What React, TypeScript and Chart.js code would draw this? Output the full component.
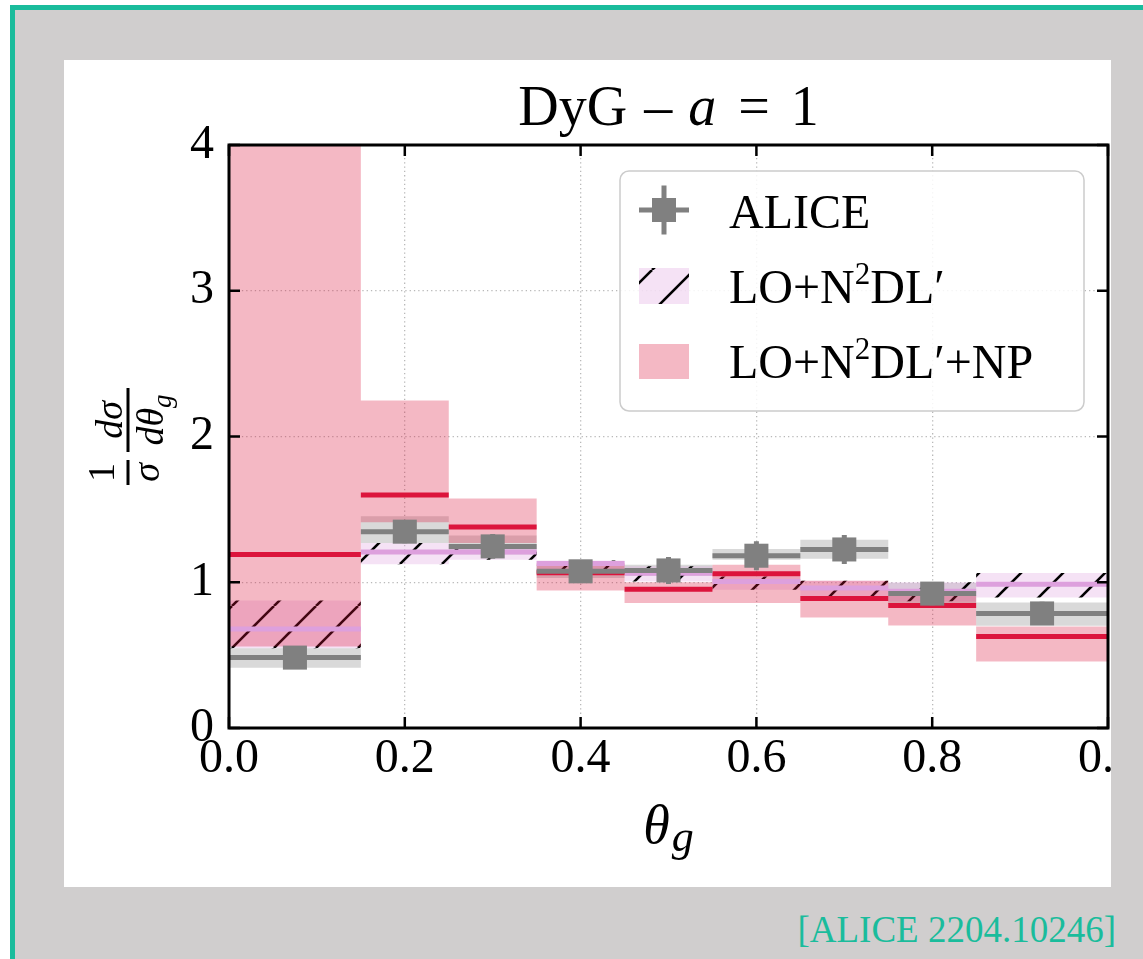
import React, { useEffect, useRef } from 'react';
import { Chart, registerables } from 'chart.js';

Chart.register(...registerables);

// ---------------- data ----------------
const BIN_EDGES = [0, 0.15, 0.25, 0.35, 0.45, 0.55, 0.65, 0.75, 0.85, 1.0];
const BIN_CENTERS = [0.075, 0.2, 0.3, 0.4, 0.5, 0.6, 0.7, 0.8, 0.925];

const ALICE_VALUE = [0.483, 1.347, 1.246, 1.075, 1.081, 1.182, 1.225, 0.922, 0.786];
const ALICE_STAT = [0.07, 0.08, 0.085, 0.075, 0.093, 0.1, 0.1, 0.08, 0.08];
const ALICE_SYS_LOW = [0.414, 1.269, 1.19, 1.03, 1.045, 1.155, 1.161, 0.85, 0.701];
const ALICE_SYS_HIGH = [0.548, 1.452, 1.32, 1.12, 1.12, 1.228, 1.292, 0.995, 0.861];

const N2DL_CENTRAL = [0.68, 1.207, 1.207, 1.128, 1.062, 1.006, 0.96, 0.939, 0.987];
const N2DL_LOW = [0.548, 1.124, 1.155, 1.06, 1.005, 0.948, 0.902, 0.87, 0.896];
const N2DL_HIGH = [0.875, 1.27, 1.25, 1.15, 1.11, 1.04, 1.01, 1.0, 1.063];

const NP_CENTRAL = [1.191, 1.599, 1.379, 1.065, 0.952, 1.058, 0.889, 0.841, 0.628];
const NP_LOW = [0.559, 1.411, 1.27, 0.944, 0.857, 0.857, 0.758, 0.703, 0.456];
const NP_HIGH = [4.5, 2.247, 1.574, 1.13, 1.0, 1.12, 1.01, 0.91, 0.696];

const X_TICKS = [0, 0.2, 0.4, 0.6, 0.8, 1.0];
const X_TICK_LABELS = ['0.0', '0.2', '0.4', '0.6', '0.8', '0.0'];
const Y_TICKS = [0, 1, 2, 3, 4];
const Y_TICK_LABELS = ['0', '1', '2', '3', '4'];

const TITLE_TEXTS = ['DyG', '\u2013', 'a', '=', '1'];
const TITLE_ITALIC = [false, false, true, false, false];
const TITLE_GAPS = [17, 16, 22, 21, 0];

const LEGEND_MAIN = ['ALICE', 'LO+N', 'LO+N'];
const LEGEND_SUP = ['', '2', '2'];
const LEGEND_TAIL = ['', 'DL\u2032', 'DL\u2032+NP'];

const CITATION = '[ALICE 2204.10246]';

// ---------------- styles ----------------
const FONT = '"Liberation Serif", "DejaVu Serif", serif';
const C_NP = '#dc143c';
const C_NP_BAND = 'rgba(220,20,60,0.3)';
const C_LO = '#dda0dd';
const C_LO_BAND = 'rgba(221,160,221,0.3)';
const C_ALICE = '#808080';
const C_ALICE_BAND = 'rgba(128,128,128,0.3)';
const TEAL = '#1abc9c';
const GRAY_BG = '#d0cece';

const CANVAS_W = 1140;
const CANVAS_H = 827;

type Pt = { x: number; y: number | null };

const stepData = (vals: number[]): Pt[] => [
  ...vals.map((v, i) => ({ x: BIN_EDGES[i], y: v })),
  { x: BIN_EDGES[BIN_EDGES.length - 1], y: vals[vals.length - 1] },
];
const segData = (vals: number[]): Pt[] =>
  vals.flatMap((v, i) => [
    { x: BIN_EDGES[i], y: v },
    { x: BIN_EDGES[i + 1], y: v },
    { x: BIN_EDGES[i + 1], y: null },
  ]);
const errData = (vals: number[], errs: number[]): Pt[] =>
  vals.flatMap((v, i) => [
    { x: BIN_CENTERS[i], y: v - errs[i] },
    { x: BIN_CENTERS[i], y: v + errs[i] },
    { x: BIN_CENTERS[i], y: null },
  ]);

function fontStr(size: number, italic?: boolean) {
  return `${italic ? 'italic ' : ''}${size}px ${FONT}`;
}

function makeHatch(ctx: CanvasRenderingContext2D) {
  const s = 42;
  const c = document.createElement('canvas');
  c.width = s;
  c.height = s;
  const g = c.getContext('2d')!;
  g.fillStyle = C_LO_BAND;
  g.fillRect(0, 0, s, s);
  g.strokeStyle = '#000';
  g.lineWidth = 2.6;
  for (const k of [-1, 0, 1]) {
    g.beginPath();
    g.moveTo(k * s, s);
    g.lineTo(k * s + s, 0);
    g.stroke();
  }
  return ctx.createPattern(c, 'repeat')!;
}

function roundRect(ctx: CanvasRenderingContext2D, x: number, y: number, w: number, h: number, r: number) {
  ctx.beginPath();
  ctx.moveTo(x + r, y);
  ctx.arcTo(x + w, y, x + w, y + h, r);
  ctx.arcTo(x + w, y + h, x, y + h, r);
  ctx.arcTo(x, y + h, x, y, r);
  ctx.arcTo(x, y, x + w, y, r);
  ctx.closePath();
}

export default function App() {
  const ref = useRef<HTMLCanvasElement>(null);

  useEffect(() => {
    const canvas = ref.current!;
    const ctx0 = canvas.getContext('2d')!;
    const hatch = makeHatch(ctx0);

    const lineDs = (label: string, data: Pt[], color: string, width: number) => ({
      label,
      data,
      borderColor: color,
      backgroundColor: color,
      borderWidth: width,
      pointRadius: 0,
      fill: false,
      spanGaps: false,
      borderCapStyle: 'butt',
    });
    const bandDs = (label: string, data: Pt[], fillColor: any, fill: any) => ({
      label,
      data,
      borderColor: 'rgba(0,0,0,0)',
      borderWidth: 1,
      pointRadius: 0,
      stepped: true,
      backgroundColor: fillColor,
      fill,
    });

    const datasets: any[] = [
      {
        label: 'ALICE',
        data: BIN_CENTERS.map((x, i) => ({ x, y: ALICE_VALUE[i] })),
        showLine: false,
        pointStyle: 'rect',
        pointRadius: 17,
        pointBackgroundColor: C_ALICE,
        pointBorderWidth: 0,
        borderColor: C_ALICE,
        borderWidth: 0,
        fill: false,
      },
      lineDs('ALICE stat', errData(ALICE_VALUE, ALICE_STAT), C_ALICE, 5),
      lineDs('ALICE bins', segData(ALICE_VALUE), C_ALICE, 5),
      lineDs('NP central', segData(NP_CENTRAL), C_NP, 5),
      lineDs('N2DL central', segData(N2DL_CENTRAL), C_LO, 5),
      bandDs('NP high', stepData(NP_HIGH), C_NP_BAND, '+1'),
      bandDs('NP low', stepData(NP_LOW), 'rgba(0,0,0,0)', false),
      bandDs('N2DL high', stepData(N2DL_HIGH), hatch, '+1'),
      bandDs('N2DL low', stepData(N2DL_LOW), 'rgba(0,0,0,0)', false),
      bandDs('ALICE sys high', stepData(ALICE_SYS_HIGH), C_ALICE_BAND, '+1'),
      bandDs('ALICE sys low', stepData(ALICE_SYS_LOW), 'rgba(0,0,0,0)', false),
    ];

    const decor = {
      id: 'decor',
      afterDatasetsDraw(chart: any) {
        const { ctx, chartArea: a, scales } = chart;
        const xs = scales.x;
        const ys = scales.y;
        ctx.save();
        ctx.strokeStyle = '#000';
        ctx.lineWidth = 2.5;
        const seg = (x1: number, y1: number, x2: number, y2: number) => {
          ctx.beginPath();
          ctx.moveTo(x1, y1);
          ctx.lineTo(x2, y2);
          ctx.stroke();
        };
        X_TICKS.forEach((v) => {
          const px = xs.getPixelForValue(v);
          seg(px, a.bottom, px, a.bottom - 11);
          seg(px, a.top, px, a.top + 11);
        });
        Y_TICKS.forEach((v) => {
          const py = ys.getPixelForValue(v);
          seg(a.left, py, a.left + 11, py);
          seg(a.right, py, a.right - 11, py);
        });
        ctx.lineWidth = 3;
        ctx.strokeRect(a.left, a.top, a.right - a.left, a.bottom - a.top);
        ctx.restore();
      },
      afterDraw(chart: any) {
        const { ctx, chartArea: a } = chart;
        const cx = (a.left + a.right) / 2;
        ctx.save();
        ctx.fillStyle = '#000';
        ctx.textBaseline = 'alphabetic';
        ctx.textAlign = 'left';

        // ---- title ----
        const tSize = 56;
        let tw = 0;
        TITLE_TEXTS.forEach((t, i) => {
          ctx.font = fontStr(tSize, TITLE_ITALIC[i]);
          tw += ctx.measureText(t).width + TITLE_GAPS[i];
        });
        let tx = cx - tw / 2;
        TITLE_TEXTS.forEach((t, i) => {
          ctx.font = fontStr(tSize, TITLE_ITALIC[i]);
          ctx.fillText(t, tx, a.top - 20);
          tx += ctx.measureText(t).width + TITLE_GAPS[i];
        });

        // ---- x label: theta_g ----
        ctx.font = fontStr(54, true);
        const thW = ctx.measureText('\u03b8').width;
        ctx.font = fontStr(44, true);
        const gW = ctx.measureText('g').width;
        const xx = cx - (thW + 2 + gW) / 2;
        ctx.font = fontStr(54, true);
        ctx.fillText('\u03b8', xx, a.bottom + 115);
        ctx.font = fontStr(44, true);
        ctx.fillText('g', xx + thW + 2, a.bottom + 123);

        // ---- y label: (1/sigma) dsigma/dtheta_g ----
        ctx.save();
        ctx.translate(a.left - 101, (a.top + a.bottom) / 2);
        ctx.rotate(-Math.PI / 2);
        ctx.textAlign = 'center';
        ctx.font = fontStr(38, false);
        ctx.fillText('1', -36, -14);
        ctx.font = fontStr(38, true);
        ctx.fillText('\u03c3', -36, 31);
        ctx.fillRect(-48.5, -1.5, 25, 3);
        ctx.fillText('d\u03c3', 16.5, -6);
        ctx.fillRect(-15.5, -1.5, 64, 3);
        ctx.textAlign = 'left';
        ctx.font = fontStr(38, true);
        const dth = ctx.measureText('d\u03b8').width;
        ctx.font = fontStr(27, true);
        const gg = ctx.measureText('g').width;
        const sx = 16.5 - (dth + gg) / 2;
        ctx.font = fontStr(38, true);
        ctx.fillText('d\u03b8', sx, 35);
        ctx.font = fontStr(27, true);
        ctx.fillText('g', sx + dth, 43);
        ctx.restore();

        // ---- legend ----
        const lw = 464;
        const lh = 240;
        const lx = a.right - 24 - lw;
        const ly = a.top + 26;
        roundRect(ctx, lx, ly, lw, lh, 9);
        ctx.fillStyle = 'rgba(255,255,255,0.85)';
        ctx.fill();
        ctx.strokeStyle = 'rgb(204,204,204)';
        ctx.lineWidth = 1.5;
        ctx.stroke();

        const px0 = lx + 19;
        const pw = 50;
        // ALICE marker
        const mcx = px0 + pw / 2;
        const mcy = ly + 39;
        ctx.strokeStyle = C_ALICE;
        ctx.lineWidth = 5;
        ctx.beginPath();
        ctx.moveTo(px0, mcy);
        ctx.lineTo(px0 + pw, mcy);
        ctx.moveTo(mcx, mcy - 24.5);
        ctx.lineTo(mcx, mcy + 24.5);
        ctx.stroke();
        ctx.fillStyle = C_ALICE;
        ctx.fillRect(mcx - 12, mcy - 12, 24, 24);
        // N2DL patch
        ctx.fillStyle = hatch;
        ctx.fillRect(px0, ly + 97, pw, 36);
        // NP patch
        ctx.fillStyle = C_NP_BAND;
        ctx.fillRect(px0, ly + 173, pw, 35);

        const baselines = [ly + 57, ly + 132, ly + 207];
        ctx.fillStyle = '#000';
        ctx.textAlign = 'left';
        LEGEND_MAIN.forEach((m, i) => {
          let x = lx + 109;
          ctx.font = fontStr(48, false);
          ctx.fillText(m, x, baselines[i]);
          x += ctx.measureText(m).width;
          if (LEGEND_SUP[i]) {
            ctx.font = fontStr(31, false);
            ctx.fillText(LEGEND_SUP[i], x, baselines[i] - 19);
            x += ctx.measureText(LEGEND_SUP[i]).width;
          }
          if (LEGEND_TAIL[i]) {
            ctx.font = fontStr(48, false);
            ctx.fillText(LEGEND_TAIL[i], x, baselines[i]);
          }
        });
        ctx.restore();
      },
    };

    const gridCommon = { color: 'rgb(185,185,185)', lineWidth: 1.3, drawTicks: false };
    const tickFont = { family: FONT, size: 48 };

    const chart = new Chart(canvas, {
      type: 'line',
      data: { datasets },
      options: {
        animation: false,
        responsive: false,
        devicePixelRatio: 1,
        events: [],
        layout: { padding: { left: 0, top: 85, right: CANVAS_W - 1044, bottom: 0 } },
        plugins: {
          legend: { display: false },
          tooltip: { enabled: false },
          title: { display: false },
        },
        scales: {
          x: {
            type: 'linear',
            min: 0,
            max: 1,
            afterBuildTicks: (s: any) => {
              s.ticks = X_TICKS.map((v) => ({ value: v }));
            },
            afterFit: (s: any) => {
              s.height = 159;
              s.paddingLeft = 0;
              s.paddingRight = 0;
            },
            ticks: {
              callback: (_v: any, i: number) => X_TICK_LABELS[i],
              font: tickFont,
              color: '#000',
              padding: 3,
              maxRotation: 0,
              minRotation: 0,
              autoSkip: false,
            },
            grid: gridCommon,
            border: { display: false, dash: [1.3, 3] },
          },
          y: {
            type: 'linear',
            min: 0,
            max: 4,
            afterBuildTicks: (s: any) => {
              s.ticks = Y_TICKS.map((v) => ({ value: v }));
            },
            afterFit: (s: any) => {
              s.width = 165;
              s.paddingTop = 0;
              s.paddingBottom = 0;
            },
            ticks: {
              callback: (_v: any, i: number) => Y_TICK_LABELS[i],
              font: tickFont,
              color: '#000',
              padding: 15,
              autoSkip: false,
            },
            grid: gridCommon,
            border: { display: false, dash: [1.3, 3] },
          },
        },
      } as any,
      plugins: [decor],
    });

    return () => chart.destroy();
  }, []);

  return (
    <div
      style={{
        position: 'absolute',
        left: 0,
        top: 0,
        width: 1143,
        height: 959,
        overflow: 'hidden',
        background: '#fff',
      }}
    >
      <div
        style={{
          position: 'absolute',
          left: 10,
          top: 5,
          width: 1300,
          height: 1100,
          boxSizing: 'border-box',
          borderLeft: `5px solid ${TEAL}`,
          borderTop: `5px solid ${TEAL}`,
          background: GRAY_BG,
        }}
      />
      <div
        style={{
          position: 'absolute',
          left: 64,
          top: 60,
          width: 1047,
          height: 827,
          overflow: 'hidden',
          background: '#fff',
        }}
      >
        <canvas
          ref={ref}
          width={CANVAS_W}
          height={CANVAS_H}
          style={{ display: 'block', width: CANVAS_W, height: CANVAS_H }}
        />
      </div>
      <div
        style={{
          position: 'absolute',
          left: 0,
          top: 911,
          width: 1116,
          textAlign: 'right',
          fontFamily: FONT,
          fontSize: 37,
          lineHeight: '37px',
          color: TEAL,
          whiteSpace: 'nowrap',
        }}
      >
        {CITATION}
      </div>
    </div>
  );
}
